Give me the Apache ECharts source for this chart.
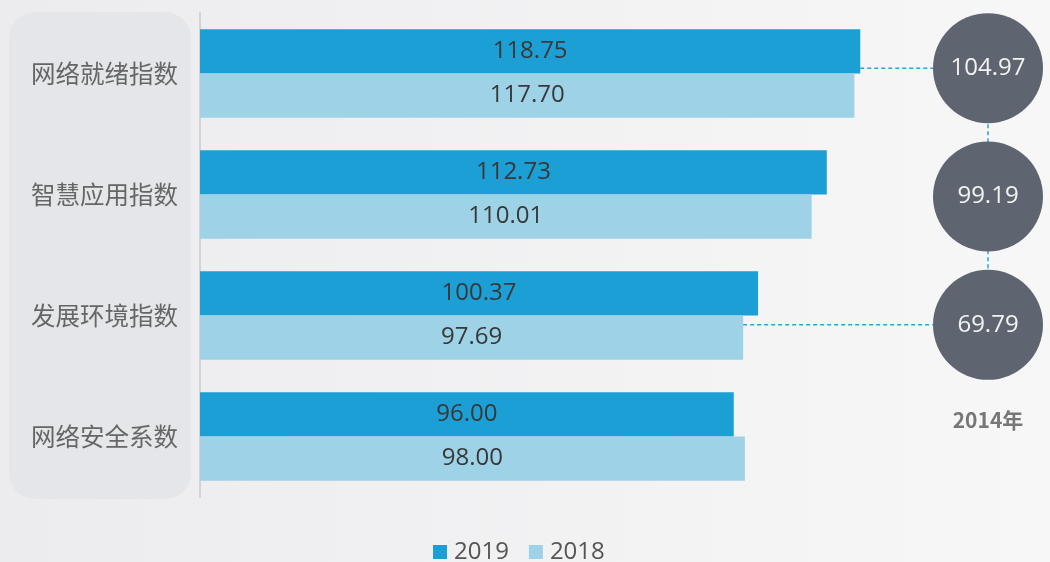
<!DOCTYPE html>
<html>
<head>
<meta charset="utf-8">
<style>
  html, body { margin: 0; padding: 0; }
  #chart { width: 1050px; height: 562px; }
</style>
<script src="https://cdn.jsdelivr.net/npm/echarts@6/dist/echarts.min.js"></script>
</head>
<body>
<div id="chart"></div>
<script>
// Index categories and yearly scores
const categories = ['网络就绪指数', '智慧应用指数', '发展环境指数', '网络安全系数'];
const values2019 = [118.75, 112.73, 100.37, 96.00];
const values2018 = [117.70, 110.01, 97.69, 98.00];
const year2014Label = '2014年';
const values2014 = [104.97, 99.19, 69.79];
const seriesNames = ['2019', '2018'];
// dashed connectors from a bar end to its 2014 circle: [category index, series index]
const connectors = [[0, 0], [2, 1]];

const CJK = '"Noto Sans CJK SC", "Noto Sans", sans-serif';
const NUM = '"Open Sans", "Noto Sans", sans-serif';
const C2019 = '#1c9fd4';
const C2018 = '#9ed2e7';
const CIRCLE = '#5e6570';
const DASH = '#2aa4da';
const CIRCLE_SIZE = 110;

const chart = echarts.init(document.getElementById('chart'), null, { renderer: 'canvas' });

const circleData = values2014.map((v, i) => [year2014Label, categories[i], v]);

const panel = {
  type: 'rect', z: -10, silent: true,
  shape: { x: 9, y: 12, width: 182, height: 487, r: 26 },
  style: { fill: '#e4e6ea' }
};

chart.setOption({
  animation: false,
  backgroundColor: {
    type: 'linear', x: 0, y: 0, x2: 1, y2: 0,
    colorStops: [{ offset: 0, color: '#ececef' }, { offset: 1, color: '#f7f7f7' }]
  },
  graphic: [panel],
  legend: {
    top: 535, left: 428,
    itemWidth: 14, itemHeight: 14, itemGap: 20,
    icon: 'rect',
    data: seriesNames,
    textStyle: { fontFamily: NUM, fontSize: 24, color: '#555', padding: [0, 0, 0, 2] }
  },
  grid: [
    { left: 200, right: 16, top: 13, bottom: 65 },
    { left: 933, width: 110, top: 4, height: 385 }
  ],
  xAxis: [
    { type: 'value', gridIndex: 0, min: 0, max: 150, show: false },
    {
      type: 'category', gridIndex: 1, data: [year2014Label],
      axisLine: { show: false }, axisTick: { show: false }, splitLine: { show: false },
      axisLabel: { margin: 21, fontFamily: CJK, fontSize: 21, fontWeight: 'bold', color: '#777' }
    }
  ],
  yAxis: [
    {
      type: 'category', gridIndex: 0, inverse: true, data: categories,
      axisLine: { show: true, lineStyle: { color: '#d3d3d5', width: 2 } },
      axisTick: { show: false },
      axisLabel: { margin: 22, fontFamily: CJK, fontSize: 24.5, color: '#666' }
    },
    {
      type: 'category', gridIndex: 1, inverse: true, data: categories.slice(0, values2014.length),
      show: false
    }
  ],
  series: [
    {
      name: seriesNames[0], type: 'bar', xAxisIndex: 0, yAxisIndex: 0,
      data: values2019, barGap: '0%', barCategoryGap: '27%',
      itemStyle: { color: C2019 },
      label: {
        show: true, position: 'inside', fontFamily: NUM, fontSize: 24, color: '#383838',
        formatter: p => p.value.toFixed(2)
      }
    },
    {
      name: seriesNames[1], type: 'bar', xAxisIndex: 0, yAxisIndex: 0,
      data: values2018, barGap: '0%', barCategoryGap: '27%',
      itemStyle: { color: C2018 },
      label: {
        show: true, position: 'inside', fontFamily: NUM, fontSize: 24, color: '#383838',
        formatter: p => p.value.toFixed(2)
      }
    },
    {
      name: year2014Label, type: 'line', xAxisIndex: 1, yAxisIndex: 1,
      data: circleData,
      symbol: 'circle', symbolSize: CIRCLE_SIZE,
      lineStyle: { color: DASH, width: 1.5, type: [4, 3] },
      itemStyle: { color: CIRCLE },
      label: {
        show: true, position: 'inside', fontFamily: NUM, fontSize: 24, color: '#f2f2f2',
        formatter: p => p.value[2].toFixed(2)
      }
    }
  ]
});

// Horizontal dashed connectors from bar ends to the 2014 circles
const seriesValues = [values2019, values2018];
const lines = connectors.map(([ci, si]) => {
  const center = chart.convertToPixel({ seriesIndex: 2 }, circleData[ci].slice(0, 2));
  const xStart = chart.convertToPixel({ xAxisIndex: 0 }, seriesValues[si][ci]);
  return {
    type: 'line', silent: true, z: 5,
    shape: { x1: xStart, y1: center[1], x2: center[0] - CIRCLE_SIZE / 2, y2: center[1] },
    style: { stroke: DASH, lineWidth: 1.5, lineDash: [4, 3] }
  };
});
chart.setOption({ graphic: [panel].concat(lines) });
</script>
</body>
</html>
